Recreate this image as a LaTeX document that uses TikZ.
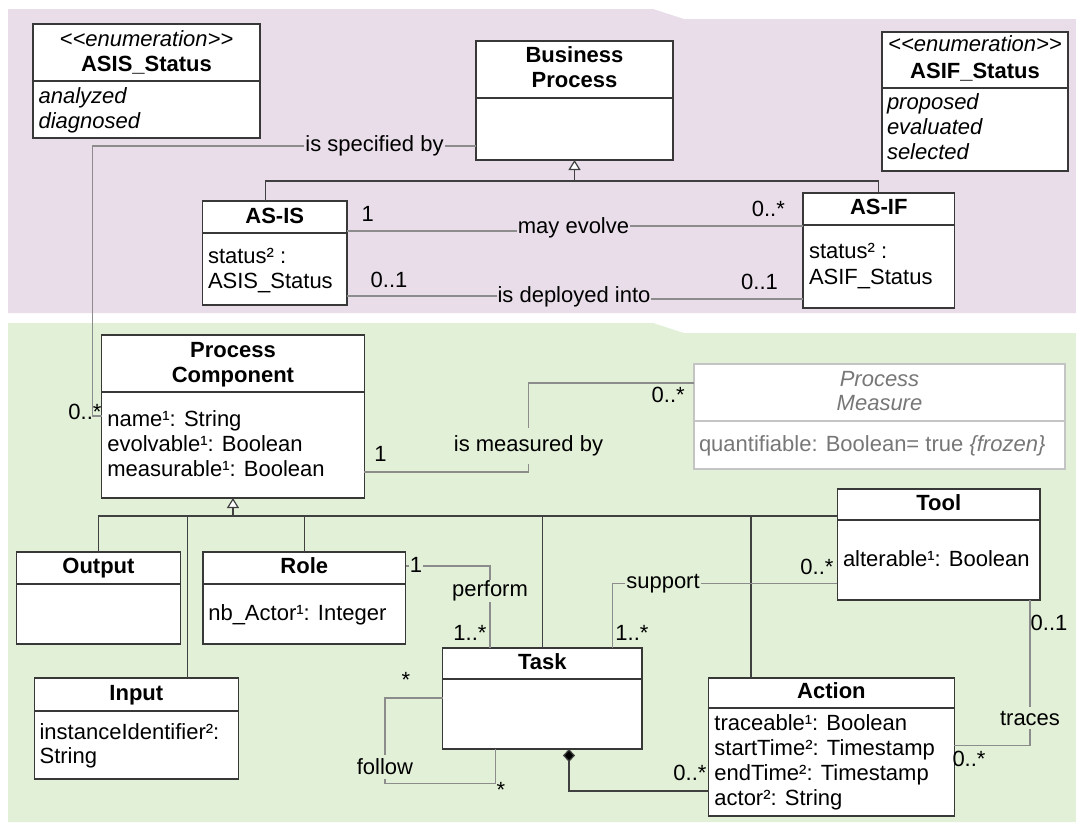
\documentclass[tikz,border=0pt]{standalone}
\usepackage{fontspec}
\setmainfont{Liberation Sans}
\usetikzlibrary{arrows.meta}
\definecolor{purplebg}{HTML}{E8DDE9}
\definecolor{greenbg}{HTML}{E2F0D8}
\definecolor{boxline}{HTML}{383838}
\definecolor{genline}{HTML}{404040}
\definecolor{assocline}{HTML}{8C8C8C}
\definecolor{pmgray}{HTML}{C4C4C4}
\definecolor{pmtext}{HTML}{777777}
\newcommand\clsbox[7][]{%
  \node[cls,#1,minimum width={#5pt-#3pt},minimum height={#6pt-#4pt}] (#2) at (#3,#4) {};
  \draw[sepst,#1] (#2.west |- 0,#7) -- (#2.east |- 0,#7);}
\begin{document}
\begin{tikzpicture}[x=1pt,y=-1pt,
  every node/.style={inner sep=0pt,outer sep=0pt,font=\fontsize{22}{25}\selectfont},
  cls/.style={draw=boxline,line width=1.2pt,fill=white,anchor=north west,inner sep=0pt},
  sepst/.style={draw=boxline,line width=1.2pt},
  ttl/.style={anchor=base,font=\fontsize{22}{25}\selectfont\bfseries},
  enumst/.style={anchor=base,font=\fontsize{22}{25}\selectfont\itshape},
  att/.style={anchor=base west},
  itatt/.style={anchor=base west,font=\fontsize{22}{25}\selectfont\itshape},
  assoc/.style={draw=assocline,line width=1.1pt},
  genl/.style={draw=genline,line width=1.2pt},
  gen/.style={genl,-{Triangle[open,length=10pt,width=12pt,fill=white]}},
  comp/.style={genl,-{Diamond[length=13pt,width=12pt,fill=black]}},
  lbl/.style={inner xsep=1pt,inner ysep=2pt},
  mult/.style={inner sep=0pt}]
\useasboundingbox (0,0) rectangle (1076,825);
% backgrounds
\fill[purplebg] (8,9) -- (653,9) -- (684,19) -- (1076,19) -- (1076,313) -- (8,313) -- cycle;
\fill[greenbg] (8,323) -- (653,323) -- (684,333) -- (1076,333) -- (1076,822) -- (8,822) -- cycle;
% class boxes
\clsbox{asisst}{33}{24}{260}{138}{81}
\clsbox{bp}{476}{41}{673}{160}{98}
\clsbox{asifst}{882}{32}{1068}{171}{88}
\clsbox{asis}{202.5}{201}{347}{305}{233}
\clsbox{asif}{803}{193}{954.5}{308}{225}
\clsbox{pc}{101.6}{335}{364.3}{498}{392}
\clsbox[draw=pmgray]{pm}{694}{364}{1065}{469}{421}
\clsbox{tool}{837.4}{489}{1040}{600}{520}
\clsbox{output}{16.5}{552}{180.4}{644}{584}
\clsbox{role}{203}{552}{405.6}{644}{584}
\clsbox{input}{34.4}{678}{238.3}{779}{711}
\clsbox{task}{442.5}{648}{642}{749}{679}
\clsbox{act}{708.5}{678}{954.4}{816}{708}
% class texts
\node[enumst] (asisstE) at (asisst.north |- 0,46) {<\kern0pt<enumeration>\kern0pt>};
\node[ttl] (asisstT) at (asisst.north |- 0,71) {ASIS\_Status};
\node[itatt] (asisstA) at (38.6,103) {analyzed};
\node[itatt] (asisstB) at (38.6,128) {diagnosed};
\node[ttl] (bpT1) at (bp.north |- 0,62) {Business};
\node[ttl] (bpT2) at (bp.north |- 0,87) {Process};
\node[enumst] (asifstE) at (asifst.north |- 0,51.3) {<\kern0pt<enumeration>\kern0pt>};
\node[ttl] (asifstT) at (asifst.north |- 0,78) {ASIF\_Status};
\node[itatt] (asifstA) at (887,109) {proposed};
\node[itatt] (asifstB) at (887,134.7) {evaluated};
\node[itatt] (asifstC) at (887,159.7) {selected};
\node[ttl] (asisT) at (asis.north |- 0,223) {AS-IS};
\node[att] (asisA) at (208,263) {status² :};
\node[att] (asisB) at (208,288) {ASIS\_Status};
\node[ttl] (asifT) at (asif.north |- 0,214.7) {AS-IF};
\node[att] (asifA) at (809,258.7) {status² :};
\node[att] (asifB) at (809,284) {ASIF\_Status};
\node[ttl] (pcT1) at (pc.north |- 0,357) {Process};
\node[ttl] (pcT2) at (pc.north |- 0,382) {Component};
\node[att] (pcA) at (107.4,426.3) {name¹: String};
\node[att] (pcB) at (107.4,451.3) {evolvable¹: Boolean};
\node[att] (pcC) at (107.4,476.3) {measurable¹: Boolean};
\node[enumst,text=pmtext] (pmT1) at (pm.north |- 0,386) {Process};
\node[enumst,text=pmtext] (pmT2) at (pm.north |- 0,410) {Measure};
\node[att,text=pmtext] (pmA) at (699,451) {quantifiable: Boolean= true \textit{\{frozen\}}};
\node[ttl] (toolT) at (tool.north |- 0,510) {Tool};
\node[att] (toolA) at (843,566) {alterable¹: Boolean};
\node[ttl] (outputT) at (output.north |- 0,573) {Output};
\node[ttl] (roleT) at (role.north |- 0,573) {Role};
\node[att] (roleA) at (208.3,620) {nb\_Actor¹: Integer};
\node[ttl] (inputT) at (input.north |- 0,700.7) {Input};
\node[att] (inputA) at (39.6,739.7) {instanceIdentifier²:};
\node[att] (inputB) at (39.6,763) {String};
\node[ttl] (taskT) at (task.north |- 0,669.7) {Task};
\node[ttl] (actT) at (act.north |- 0,698) {Action};
\node[att] (actA) at (714.4,730.7) {traceable¹: Boolean};
\node[att] (actB) at (714.4,755.7) {startTime²: Timestamp};
\node[att] (actC) at (714.4,780.3) {endTime²: Timestamp};
\node[att] (actD) at (714.4,805.7) {actor²: String};
% association labels
\node[lbl] (spec) at (374.5,146) {is specified by};
\node[lbl] (mayev) at (573.5,228) {may evolve};
\node[lbl] (depl) at (574,297) {is deployed into};
\node[lbl,inner ysep=8pt] (meas) at (528.5,446) {is measured by};
\node[lbl,inner ysep=1pt] (perf) at (490,591) {perform};
\node[lbl] (sup) at (663,583.5) {support};
\node[lbl,inner ysep=4pt] (fol) at (385,767) {follow};
\node[lbl,inner ysep=4pt] (trc) at (1030,718) {traces};
% multiplicities
\node[mult] (m1) at (367.8,214) {1};
\node[mult] (m2) at (768.4,209) {0..*};
\node[mult] (m3) at (389,280) {0..1};
\node[mult] (m4) at (759.5,282) {0..1};
\node[mult] (m5) at (85,412) {0..*};
\node[mult] (m6) at (380.5,454) {1};
\node[mult] (m7) at (668.2,395) {0..*};
\node[mult] (m9) at (470,633) {1..*};
\node[mult] (m10) at (817,567) {0..*};
\node[mult] (m11) at (632,633) {1..*};
\node[mult] (m12) at (406,680) {*};
\node[mult] (m13) at (501,790) {*};
\node[mult] (m14) at (690,773) {0..*};
\node[mult] (m15) at (1049,623) {0..1};
\node[mult] (m16) at (969,759) {0..*};
% generalization: Business Process
\coordinate (busA) at (0,181);
\draw[genl] (asis.north -| 265.8,0) |- (asif.north |- busA) -- (asif.north);
\draw[gen] (bp.south |- busA) -- (bp.south);
% generalization: Process Component
\coordinate (busB) at (0,516);
\draw[genl] (output.north) |- (tool.west |- busB);
\draw[genl] (input.north -| 187.7,0) -- (busB -| 187.7,0);
\draw[genl] (role.north) -- (role.north |- busB);
\draw[genl] (task.north) -- (task.north |- busB);
\draw[genl] (act.north -| 751,0) -- (busB -| 751,0);
\draw[gen] (pc.south |- busB) -- (pc.south);
% associations
\draw[assoc] (bp.west |- spec) -- (spec.east);
\draw[assoc] (spec.west) -| (92.3,416) -- (pc.west |- 0,416);
\draw[assoc] (asis.east |- 0,231) -- (mayev.west |- 0,231);
\draw[assoc] (mayev.east |- 0,226) -- (asif.west |- 0,226);
\draw[assoc] (asis.east |- 0,296) -- (depl.west |- 0,296);
\draw[assoc] (depl.east |- 0,299) -- (asif.west |- 0,299);
\draw[assoc] (pc.east |- 0,472) -| (meas.south);
\draw[assoc] (meas.north) |- (pm.west |- 0,383);
\draw[assoc] (role.east |- 0,566) -| (perf.north);
\draw[assoc] (perf.south) -- (perf.south |- task.north);
\node[mult,fill=greenbg,inner xsep=1pt] (m8) at (416,565) {1};
\draw[assoc] (tool.west |- sup) -- (sup.east);
\draw[assoc] (sup.west) -| (task.north -| 612.7,0);
\draw[assoc] (task.west |- 0,698) -| (fol.north);
\draw[assoc] (fol.south) |- (495.9,783.3) -- (task.south -| 495.9,0);
\draw[assoc] (tool.south -| trc) -- (trc.north);
\draw[assoc] (trc.south) |- (act.east |- 0,745.7);
% composition
\draw[comp] (act.west |- 0,791) -| (task.south -| 569,0);
\end{tikzpicture}
\end{document}
